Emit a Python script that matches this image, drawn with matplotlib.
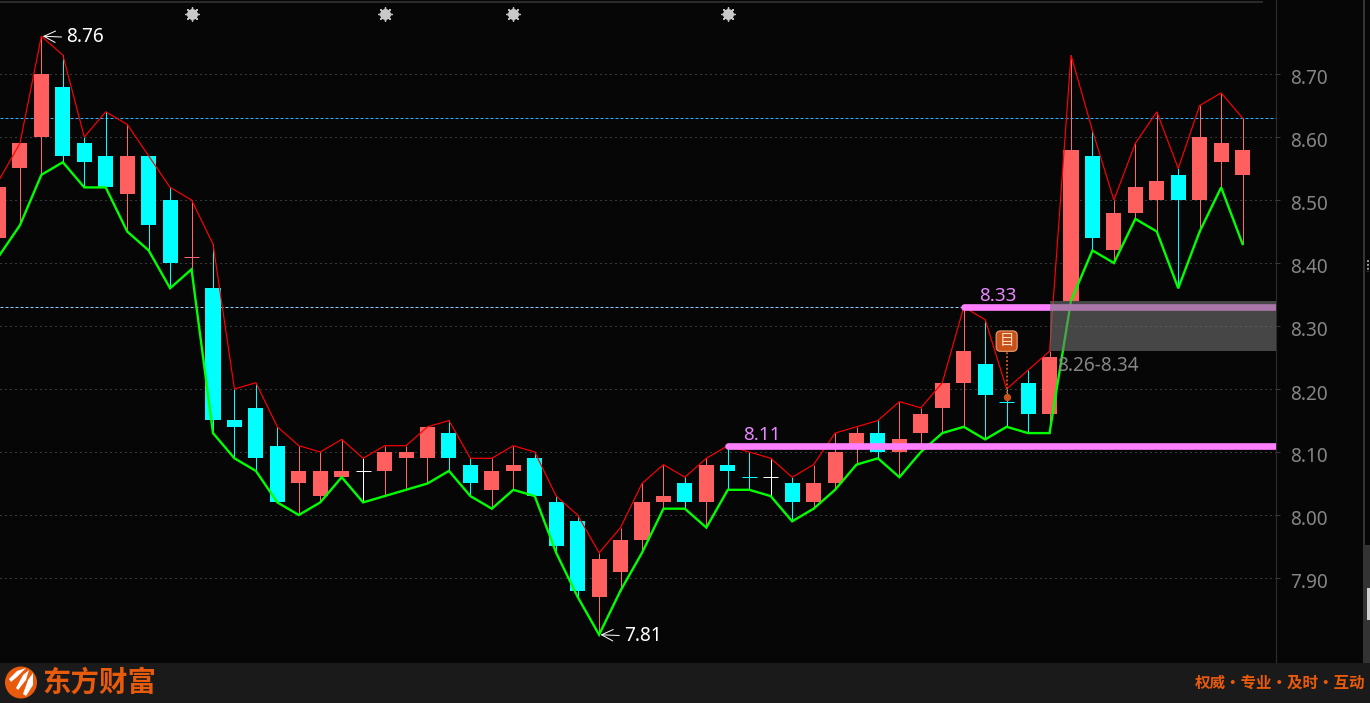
import matplotlib
matplotlib.use("Agg")
import matplotlib.pyplot as plt
from matplotlib.patches import Rectangle, Circle, Polygon
from matplotlib.ticker import FixedLocator, FormatStrFormatter
from matplotlib.transforms import ScaledTranslation

# ---------- data ----------
first_index = -2
opens = [8.44, 8.55, 8.60, 8.68, 8.59, 8.57, 8.51, 8.57, 8.50, 8.41, 8.36, 8.15, 8.17, 8.11, 8.05, 8.03, 8.06, 8.07,
         8.07, 8.09, 8.09, 8.13, 8.08, 8.04, 8.07, 8.09, 8.02, 7.99, 7.87, 7.91, 7.96, 8.02, 8.05, 8.02, 8.08, 8.06,
         8.06, 8.05, 8.02, 8.05, 8.11, 8.13, 8.10, 8.13, 8.17, 8.21, 8.24, 8.18, 8.21, 8.16, 8.34, 8.57, 8.42, 8.48,
         8.50, 8.54, 8.50, 8.56, 8.54]
closes = [8.52, 8.59, 8.70, 8.57, 8.56, 8.52, 8.57, 8.46, 8.40, 8.41, 8.15, 8.14, 8.09, 8.02, 8.07, 8.07, 8.07, 8.07,
          8.10, 8.10, 8.14, 8.09, 8.05, 8.07, 8.08, 8.03, 7.95, 7.88, 7.93, 7.96, 8.02, 8.03, 8.02, 8.08, 8.07, 8.06,
          8.06, 8.02, 8.05, 8.10, 8.13, 8.10, 8.12, 8.16, 8.21, 8.26, 8.19, 8.18, 8.16, 8.25, 8.58, 8.44, 8.48, 8.52,
          8.53, 8.50, 8.60, 8.59, 8.58]
highs = [8.53, 8.59, 8.76, 8.73, 8.60, 8.64, 8.62, 8.57, 8.52, 8.50, 8.43, 8.20, 8.21, 8.14, 8.11, 8.10, 8.12, 8.09,
         8.11, 8.11, 8.14, 8.15, 8.09, 8.09, 8.11, 8.10, 8.03, 8.00, 7.94, 7.98, 8.05, 8.08, 8.06, 8.09, 8.11, 8.10,
         8.09, 8.06, 8.08, 8.13, 8.14, 8.15, 8.18, 8.17, 8.21, 8.33, 8.31, 8.20, 8.23, 8.26, 8.73, 8.61, 8.50, 8.59,
         8.64, 8.55, 8.65, 8.67, 8.63]
lows = [8.41, 8.46, 8.54, 8.56, 8.52, 8.52, 8.45, 8.42, 8.36, 8.39, 8.13, 8.09, 8.07, 8.02, 8.00, 8.02, 8.06, 8.02,
        8.03, 8.04, 8.05, 8.07, 8.03, 8.01, 8.04, 8.03, 7.94, 7.87, 7.81, 7.88, 7.94, 8.01, 8.01, 7.98, 8.04, 8.04,
        8.03, 7.99, 8.01, 8.04, 8.08, 8.09, 8.06, 8.10, 8.13, 8.14, 8.12, 8.14, 8.13, 8.13, 8.34, 8.42, 8.40, 8.47,
        8.45, 8.36, 8.45, 8.52, 8.43]
kinds = ['r', 'r', 'r', 'c', 'c', 'c', 'r', 'c', 'c', 'r', 'c', 'c', 'c', 'c', 'r', 'r', 'r', 'w',
         'r', 'r', 'r', 'c', 'c', 'r', 'r', 'c', 'c', 'c', 'r', 'r', 'r', 'r', 'c', 'r', 'c', 'c',
         'w', 'c', 'r', 'r', 'r', 'c', 'r', 'r', 'r', 'r', 'c', 'c', 'c', 'r', 'r', 'c', 'r', 'r',
         'r', 'c', 'r', 'r', 'r']
y_ticks = [7.90, 8.00, 8.10, 8.20, 8.30, 8.40, 8.50, 8.60, 8.70]
dashed_levels = [8.63, 8.33]
star_indices = [7, 16, 22, 32]
star_price = 8.795
peak_index, peak_price, peak_label = 0, 8.76, "8.76"
trough_index, trough_price, trough_label = 26, 7.81, "7.81"
support = (32, 8.11, "8.11")
resist = (43, 8.33, "8.33")
zone_low, zone_high, zone_start = 8.26, 8.34, 47
zone_label = "8.26-8.34"
note_index, note_price, note_top, note_badge = 45, 8.188, 8.262, 8.276
brand = "东方财富"
slogan = "权威·专业·及时·互动"

# ---------- styles ----------
W, H = 1370, 703
BG = "#060606"
RED_BODY = "#ff5f5f"
CYAN = "#00ffff"
COL = {'r': RED_BODY, 'c': CYAN, 'w': "#ffffff"}
PINK = "#ff80ff"
ORANGE = "#e85a0c"
LABEL = "#858585"
px = 0.72  # one pixel in points
plt.rcParams['font.family'] = ['Noto Sans', 'DejaVu Sans']
CJK = ['Noto Sans CJK SC', 'DejaVu Sans']

fig = plt.figure(figsize=(W / 100, H / 100), dpi=100, facecolor=BG)
AX_R, AX_B = 1276, 662
ax = fig.add_axes([0, 1 - AX_B / H, AX_R / W, AX_B / H], facecolor=BG)

# 41.4 px = index 0, 21.45 px per bar; 515 px = 8.00, 630 px per 1.00
ax.set_xlim((0 - 41.4) / 21.45, (AX_R - 41.4) / 21.45)
ax.set_ylim(8 + (515 - AX_B) / 630, 8 + 515 / 630)

for s in ('top', 'left', 'bottom'):
    ax.spines[s].set_visible(False)
ax.spines['right'].set_color("#2c2c2c")
ax.spines['right'].set_linewidth(px * 1.2)
ax.set_xticks([])
ax.yaxis.tick_right()
ax.yaxis.set_major_locator(FixedLocator(y_ticks))
ax.yaxis.set_major_formatter(FormatStrFormatter('%.2f'))
ax.tick_params(axis='y', length=3, width=px, color="#3a3a3a", labelcolor=LABEL, labelsize=13.7, pad=7.3)
down = ScaledTranslation(0, -3 / 100, fig.dpi_scale_trans)
for lab in ax.get_yticklabels():
    lab.set_transform(lab.get_transform() + down)
ax.yaxis.grid(True, color="#6a6a6a", linewidth=px, linestyle=(0, (1, 4)), zorder=0)
ax.set_axisbelow(True)

xs = [first_index + i for i in range(len(opens))]

# dashed reference lines
for lv, col in zip(dashed_levels, ("#29b6ff", "#8fd0ff")):
    ax.axhline(lv, color=col, linewidth=px, linestyle=(0, (3, 2)), zorder=1)

# candles
ax.vlines(xs, lows, highs, colors=[("#ff6666" if k == 'r' else COL[k]) for k in kinds], linewidth=px, zorder=2)
for x, o, c, k in zip(xs, opens, closes, kinds):
    if o == c:
        ax.hlines(o, x - 0.35, x + 0.35, colors=COL[k] if k != 'r' else "#ff6666", linewidth=px, zorder=3)
    else:
        ax.bar(x, abs(c - o), bottom=min(o, c), width=0.7, color=COL[k], linewidth=0, zorder=3)

# high / low envelope
ax.plot(xs, highs, color="#ff0000", linewidth=0.85, zorder=4, solid_joinstyle='miter')
ax.plot(xs, lows, color="#00ff00", linewidth=1.7, zorder=5, solid_joinstyle='miter')

# pink levels
right_edge = ax.get_xlim()[1]
for idx, lv, txt in (support, resist):
    ax.plot([idx, right_edge], [lv, lv], color=PINK, linewidth=4.8, solid_capstyle='round', zorder=6)
    ax.annotate(txt, (idx, lv), xytext=(15, 2), textcoords='offset pixels', color="#e887ff", fontsize=13.6,
                ha='left', va='bottom', zorder=9)

# zone
ax.add_patch(Rectangle((zone_start, zone_low), right_edge - zone_start, zone_high - zone_low,
                       facecolor="#727272", alpha=0.6, linewidth=0, zorder=7))
ax.annotate(zone_label, (zone_start, zone_low), xytext=(8, -5), textcoords='offset pixels', color=LABEL,
            fontsize=13.7, ha='left', va='top', zorder=9)

# extreme labels
for idx, pr, txt in ((peak_index, peak_price, peak_label), (trough_index, trough_price, trough_label)):
    ax.annotate(txt, (idx, pr), xytext=(25, -1), textcoords='offset pixels', color="#ffffff", fontsize=13.7,
                ha='left', va='center', zorder=9,
                arrowprops=dict(arrowstyle='->,head_length=0.6,head_width=0.3', color="#ffffff", lw=px,
                                shrinkA=1.5, shrinkB=1, relpos=(0, 0.5)))

# stars
ax.scatter(star_indices, [star_price] * len(star_indices), marker=(8, 2, 0), s=95, color="#c4c4c4", linewidths=1,
           zorder=8, clip_on=False)
ax.scatter(star_indices, [star_price] * len(star_indices), marker='o', s=62, color="#c8c8c8", linewidths=0, zorder=8)

# note marker
ax.plot([note_index, note_index], [note_price, note_top], color="#c8501a", linewidth=1.4,
        linestyle=(0, (1, 1)), zorder=8)
ax.scatter([note_index], [note_price], s=28, color="#c8501a", linewidths=0, zorder=9)
ax.text(note_index, note_badge, "目", family=CJK, fontsize=10.5, color="#ffe0c0", ha='center', va='center', zorder=10,
        bbox=dict(boxstyle='round,pad=0.22,rounding_size=0.3', facecolor="#c8501a", edgecolor="#e8a070", linewidth=0.8))

# ---------- chrome in pixel coordinates ----------
ov = fig.add_axes([0, 0, 1, 1], facecolor='none')
ov.set_xlim(0, W)
ov.set_ylim(H, 0)
ov.axis('off')
ov.add_patch(Rectangle((0, 663), W, 40, facecolor="#1a1a1a", linewidth=0))
ov.plot([0, 1262], [1.5, 1.5], color="#2c2c2c", linewidth=1.4)
ov.add_patch(Rectangle((1363, 0), 2, 545, facecolor="#333333", linewidth=0))
ov.add_patch(Rectangle((1363, 545), 7, 118, facecolor="#333333", linewidth=0))
ov.add_patch(Rectangle((1367, 588), 3, 32, facecolor="#d0d0d0", linewidth=0))
ov.plot([1368, 1368], [260, 272], color="#9a9a9a", linewidth=1.4, linestyle=(0, (1, 1)))
ov.add_patch(Circle((21, 682.5), 16, facecolor=ORANGE, linewidth=0))
petals = [[(26, 668), (17, 671), (9, 679), (11, 682), (17, 677)],
          [(29, 670), (23, 675), (16, 688), (18, 690), (26, 680)],
          [(33, 673), (28, 680), (23, 694), (26, 696), (33, 685)]]
for p in petals:
    ov.add_patch(Polygon(p, closed=True, facecolor="#ffffff", linewidth=0))
ov.text(42, 683, brand, family=CJK, fontweight='bold', fontsize=20.5, color=ORANGE, ha='left', va='center')
ov.text(1365, 683, slogan, family=CJK, fontweight='bold', fontsize=11.2, color=ORANGE, ha='right', va='center')

fig.savefig("out.png", dpi=100, facecolor=BG)
